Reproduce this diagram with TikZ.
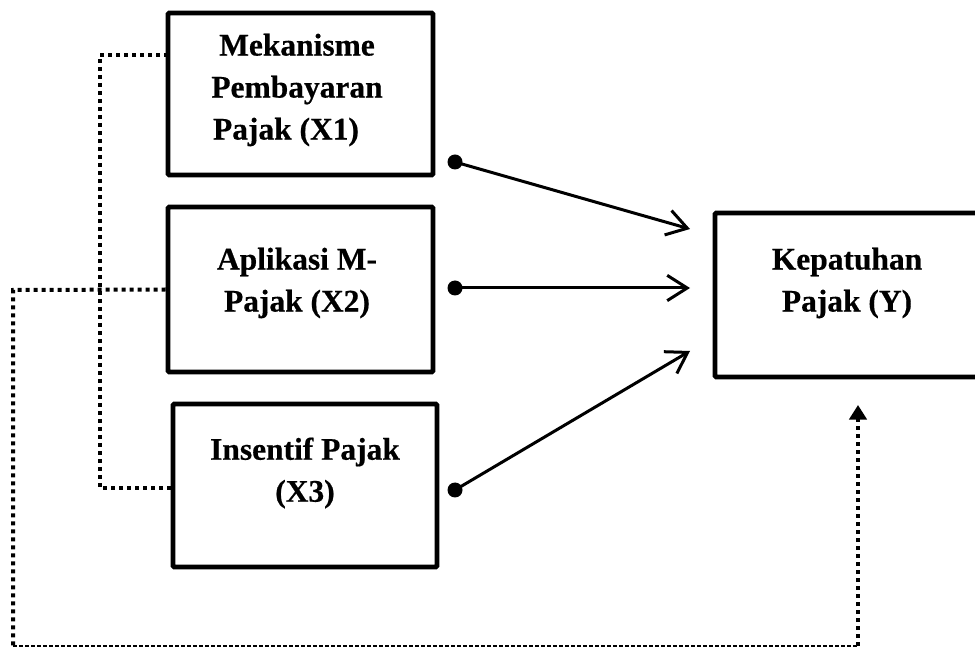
\documentclass[tikz,border=0pt]{standalone}
\usepackage{fontspec}
\setmainfont{Liberation Serif}[BoldFeatures={FakeBold=0.5}]
\usetikzlibrary{arrows.meta,fit}
\tikzset{
  box/.style={draw=black, line width=3.4pt, inner sep=0pt, rounded corners=0.8pt},
  lbl/.style={align=center, inner sep=0pt, font=\bfseries\fontsize{23.6pt}{31.5pt}\selectfont},
  dotn/.style={circle, fill=black, inner sep=0pt, minimum size=11.25pt},
  arr/.style={line width=2.25pt, -{Straight Barb[length=15pt, width=19pt, line width=2.25pt]}},
  dotline/.style={line width=3pt, dash pattern=on 3pt off 3pt},
  thindash/.style={line width=1.5pt, dash pattern=on 3pt off 1.5pt},
  uptip/.style={-{Triangle[length=11pt, width=13pt]}}
}
\begin{document}
\begin{tikzpicture}[x=0.75pt, y=-0.75pt]
\useasboundingbox (0,0) rectangle (975,648);
\clip (0,0) rectangle (975,648);
% boxes
\node[box, fit={(168,13) (433,175)}] (X1) {};
\node[box, fit={(168,207) (433,372)}] (X2) {};
\node[box, fit={(173,404) (437,567)}] (X3) {};
\node[box, fit={(715,213) (990,377)}] (Y) {};
% labels
\node[lbl] (X1t) at (297,90) {Mekanisme\\Pembayaran\\Pajak (X1)\hspace*{0.7em}};
\node[lbl] (X2t) at (297,283) {Aplikasi M-\\Pajak (X2)};
\node[lbl] (X3t) at (305,473) {Insentif Pajak\\(X3)};
\node[lbl] (Yt) at (847,283) {Kepatuhan\\Pajak (Y)};
% dots and arrows
\node[dotn] (d1) at (455,162) {};
\node[dotn] (d2) at (455,288) {};
\node[dotn] (d3) at (455,490) {};
\coordinate (t1) at (690,229);
\coordinate (t2) at (690,288);
\coordinate (t3) at (690,351);
\draw[arr] (d1.center) -- (t1);
\draw[arr] (d2.center) -- (t2);
\draw[arr] (d3.center) -- (t3);
% dotted connector X1 - X3
\coordinate (a1) at (168,55);
\coordinate (a2) at (100,55);
\coordinate (a3) at (100,488);
\coordinate (a4) at (173,488);
\draw[dotline] (a1) -- (a2) -- (a3) -- (a4);
% dotted connector X2 - Y
\coordinate (b1) at (13,290);
\coordinate (b2) at (13,646);
\coordinate (b3) at (858,646);
\coordinate (b4) at (858,405);
\draw[dotline] (X2.west) -- (b1) -- (b2);
\draw[thindash] (b2) -- (b3);
\draw[dotline, uptip] (b3) -- (b4);
\end{tikzpicture}
\end{document}
